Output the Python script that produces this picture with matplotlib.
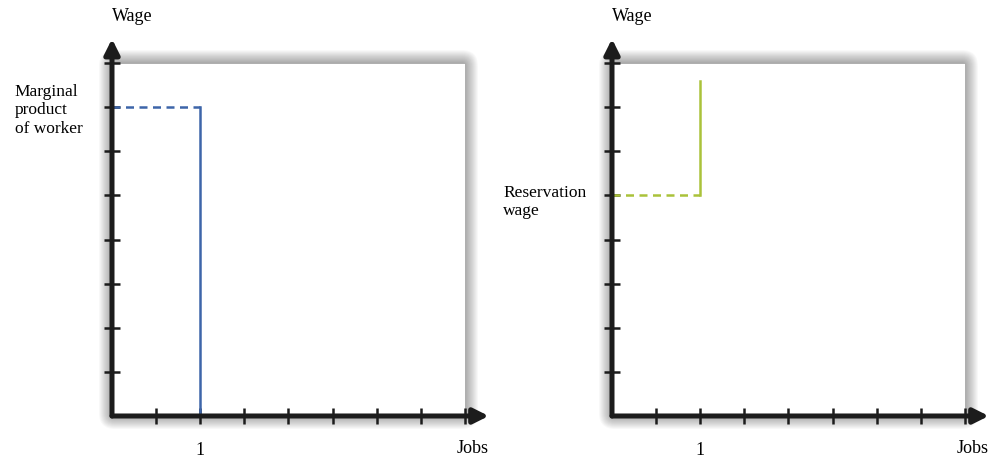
import numpy as np
import matplotlib
matplotlib.use("Agg")
import matplotlib.pyplot as plt
from matplotlib.patches import FancyBboxPatch, Rectangle
from matplotlib.transforms import IdentityTransform

# data (x in jobs, y in wage units; ticks every half job / one wage unit)
x_ticks = np.arange(0.5, 4.01, 0.5)
y_ticks = np.arange(1, 9)
x_labels = ["" if t != 1 else "1" for t in x_ticks]

mp_level = 7          # marginal product of worker
mp_job = 1
res_level = 5         # reservation wage
res_top = 7.6
res_job = 1

blue = "#3d65a9"
green = "#aac23a"
axis_col = "#1c1c1c"

plt.rcParams["font.family"] = ["Liberation Serif", "DejaVu Serif"]

fig = plt.figure(figsize=(10, 4.6), dpi=100)


def make_panel(left):
    ax = fig.add_axes([left, 0.0935, 0.375, 0.815])
    ax.set_xlim(0, 4.25)
    ax.set_ylim(0, 8.5)
    ax.set_facecolor("none")
    for s in ax.spines.values():
        s.set_visible(False)

    # soft shadow round the white plot box
    (x0, y0), (x1, y1) = ax.transData.transform([(0, 0), (4, 8)])
    for k in range(13, 0, -1):
        ax.add_patch(FancyBboxPatch((x0, y0), x1 - x0, y1 - y0,
                                    boxstyle=f"round,pad={k},rounding_size={k + 3}",
                                    transform=IdentityTransform(), facecolor="black",
                                    edgecolor="none", alpha=0.028, clip_on=False, zorder=0))
    ax.add_patch(Rectangle((0, 0), 4, 8, facecolor="white", edgecolor="#a8a8a8",
                           lw=0.6, zorder=1))

    # axes with arrows
    ax.annotate("", xy=(4.27, 0), xytext=(0, 0), annotation_clip=False,
                arrowprops=dict(arrowstyle="-|>,head_length=0.9,head_width=0.45",
                                lw=3.6, color=axis_col, shrinkA=0, shrinkB=0), zorder=5)
    ax.annotate("", xy=(0, 8.55), xytext=(0, 0), annotation_clip=False,
                arrowprops=dict(arrowstyle="-|>,head_length=0.9,head_width=0.45",
                                lw=3.6, color=axis_col, shrinkA=0, shrinkB=0), zorder=5)
    ax.plot([0, 0.03], [0, 0], color=axis_col, lw=3.6, solid_capstyle="projecting", zorder=5)

    ax.set_xticks(x_ticks)
    ax.set_xticklabels(x_labels, fontsize=13)
    ax.set_yticks(y_ticks)
    ax.set_yticklabels([])
    ax.tick_params(direction="inout", length=12, width=1.8, color=axis_col, pad=12)
    ax.set_axisbelow(False)

    ax.text(0.0, 9.09, "Wage", fontsize=13, ha="left", va="center", clip_on=False)
    ax.text(4.27, -0.72, "Jobs", fontsize=13, ha="right", va="center", clip_on=False)
    return ax


ax1 = make_panel(0.112)
ax1.plot([0, mp_job], [mp_level, mp_level], color=blue, lw=1.8, ls=(0, (3.2, 2.2)), zorder=4)
ax1.plot([mp_job, mp_job], [0, mp_level], color=blue, lw=1.8, zorder=4)
ax1.text(-1.1, mp_level - 0.05, "Marginal\nproduct\nof worker", fontsize=12.5,
         ha="left", va="center", linespacing=1.2, clip_on=False)

ax2 = make_panel(0.612)
ax2.plot([0, res_job], [res_level, res_level], color=green, lw=1.8, ls=(0, (3.2, 2.2)), zorder=4)
ax2.plot([res_job, res_job], [res_level, res_top], color=green, lw=1.8, zorder=4)
ax2.text(-1.23, res_level - 0.12, "Reservation\nwage", fontsize=12.5,
         ha="left", va="center", linespacing=1.2, clip_on=False)

fig.savefig("out.png", dpi=100)
